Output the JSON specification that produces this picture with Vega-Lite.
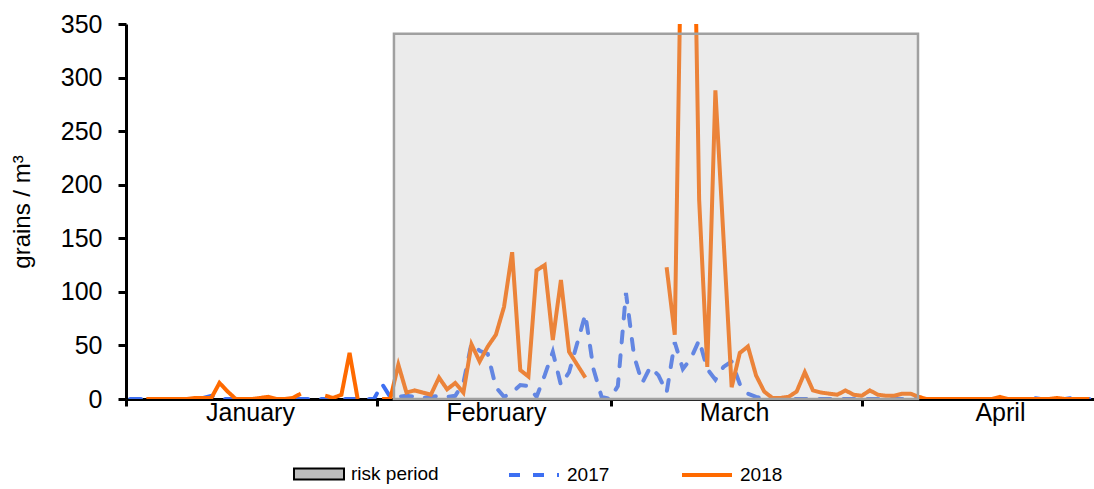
{
  "$schema": "https://vega.github.io/schema/vega-lite/v6.json",
  "width": 968,
  "height": 375,
  "autosize": {"type": "none"},
  "padding": {"left": 126, "top": 24, "right": 0, "bottom": 90},
  "background": "white",
  "config": {"view": {"stroke": null}, "font": "Liberation Sans"},
  "resolve": {"axis": {"x": "independent"}},
  "datasets": {
    "s2017": [
      {"day":1,"value":0},{"day":2,"value":0},{"day":3,"value":0},{"day":4,"value":0},{"day":5,"value":0},{"day":6,"value":0},{"day":7,"value":0},{"day":8,"value":0},{"day":9,"value":0},{"day":10,"value":1},
      {"day":11,"value":3},{"day":12,"value":0},{"day":13,"value":0},{"day":14,"value":0},{"day":15,"value":0},{"day":16,"value":0},{"day":17,"value":0},{"day":18,"value":0},{"day":19,"value":0},{"day":20,"value":0},
      {"day":21,"value":0},{"day":22,"value":0},{"day":23,"value":0},{"day":24,"value":0},{"day":25,"value":0},{"day":26,"value":0},{"day":27,"value":0},{"day":28,"value":0},{"day":29,"value":0},{"day":30,"value":0},
      {"day":31,"value":0},{"day":32,"value":14},{"day":33,"value":2},{"day":34,"value":2},{"day":35,"value":3},{"day":36,"value":2},{"day":37,"value":1},{"day":38,"value":2},{"day":39,"value":3},{"day":40,"value":2},
      {"day":41,"value":3},{"day":42,"value":15},{"day":43,"value":52},{"day":44,"value":45},{"day":45,"value":42},{"day":46,"value":11},{"day":47,"value":2},{"day":48,"value":6},{"day":49,"value":13},{"day":50,"value":12},
      {"day":51,"value":2},{"day":52,"value":22},{"day":53,"value":44},{"day":54,"value":13},{"day":55,"value":25},{"day":56,"value":52},{"day":57,"value":79},{"day":58,"value":28},{"day":59,"value":2},{"day":60,"value":0},
      {"day":61,"value":12},{"day":62,"value":99},{"day":63,"value":40},{"day":64,"value":15},{"day":65,"value":30},{"day":66,"value":22},{"day":67,"value":6},{"day":68,"value":53},{"day":69,"value":28},{"day":70,"value":38},
      {"day":71,"value":55},{"day":72,"value":28},{"day":73,"value":18},{"day":74,"value":30},{"day":75,"value":35},{"day":76,"value":14},{"day":77,"value":5},{"day":78,"value":2},{"day":79,"value":0},{"day":80,"value":0},
      {"day":81,"value":0},{"day":82,"value":0},{"day":83,"value":0},{"day":84,"value":0},{"day":85,"value":0},{"day":86,"value":0},{"day":87,"value":0},{"day":88,"value":0},{"day":89,"value":0},{"day":90,"value":0},
      {"day":91,"value":0},{"day":92,"value":0},{"day":93,"value":0},{"day":94,"value":0},{"day":95,"value":0},{"day":96,"value":0},{"day":97,"value":0},{"day":98,"value":0},{"day":99,"value":0},{"day":100,"value":0},
      {"day":101,"value":0},{"day":102,"value":0},{"day":103,"value":0},{"day":104,"value":0},{"day":105,"value":0},{"day":106,"value":0},{"day":107,"value":0},{"day":108,"value":0},{"day":109,"value":0},{"day":110,"value":0},
      {"day":111,"value":0},{"day":112,"value":1},{"day":113,"value":0},{"day":114,"value":0},{"day":115,"value":0},{"day":116,"value":0},{"day":117,"value":1},{"day":118,"value":0},{"day":119,"value":0}
    ],
    "s2018": [
      {"day":3,"value":0},{"day":4,"value":0},{"day":5,"value":0},{"day":6,"value":0},{"day":7,"value":0},{"day":8,"value":0},{"day":9,"value":1},{"day":10,"value":1},
      {"day":11,"value":1},{"day":12,"value":15},{"day":13,"value":7},{"day":14,"value":0},{"day":15,"value":0},{"day":16,"value":0},{"day":17,"value":1},{"day":18,"value":2},{"day":19,"value":0},{"day":20,"value":0},
      {"day":21,"value":1},{"day":22,"value":5},{"day":23,"value":null},{"day":25,"value":3},{"day":26,"value":1},{"day":27,"value":4},{"day":28,"value":43},{"day":29,"value":0},{"day":30,"value":null},
      {"day":32,"value":0},{"day":33,"value":0},{"day":34,"value":32},{"day":35,"value":6},{"day":36,"value":8},{"day":37,"value":6},{"day":38,"value":4},{"day":39,"value":20},{"day":40,"value":9},
      {"day":41,"value":15},{"day":42,"value":6},{"day":43,"value":51},{"day":44,"value":35},{"day":45,"value":49},{"day":46,"value":60},{"day":47,"value":86},{"day":48,"value":137},{"day":49,"value":27},{"day":50,"value":21},
      {"day":51,"value":120},{"day":52,"value":125},{"day":53,"value":55},{"day":54,"value":111},{"day":55,"value":44},{"day":56,"value":32},{"day":57,"value":20},{"day":58,"value":null},
      {"day":67,"value":123},{"day":68,"value":60},{"day":69,"value":530},{"day":70,"value":640},
      {"day":71,"value":186},{"day":72,"value":30},{"day":73,"value":288},{"day":74,"value":150},{"day":75,"value":11},{"day":76,"value":43},{"day":77,"value":49},{"day":78,"value":22},{"day":79,"value":7},{"day":80,"value":1},
      {"day":81,"value":1},{"day":82,"value":2},{"day":83,"value":7},{"day":84,"value":25},{"day":85,"value":8},{"day":86,"value":6},{"day":87,"value":5},{"day":88,"value":4},{"day":89,"value":8},{"day":90,"value":4},
      {"day":91,"value":3},{"day":92,"value":8},{"day":93,"value":4},{"day":94,"value":3},{"day":95,"value":3},{"day":96,"value":5},{"day":97,"value":5},{"day":98,"value":2},{"day":99,"value":0},{"day":100,"value":0},
      {"day":101,"value":0},{"day":102,"value":0},{"day":103,"value":0},{"day":104,"value":0},{"day":105,"value":0},{"day":106,"value":0},{"day":107,"value":0},{"day":108,"value":2},{"day":109,"value":0},{"day":110,"value":0},
      {"day":111,"value":0},{"day":112,"value":0},{"day":113,"value":0},{"day":114,"value":0},{"day":115,"value":1},{"day":116,"value":0},{"day":117,"value":0},{"day":118,"value":0},{"day":119,"value":0}
    ],
    "risk": [{"start": 33.46, "end": 97.92, "low": 0, "high": 341, "series": "risk period"}]
  },
  "layer": [
    {
      "data": {"name": "s2017"},
      "transform": [{"calculate": "'2017'", "as": "series"}],
      "mark": {"type": "line", "strokeWidth": 4, "strokeCap": "round", "clip": true, "invalid": "break-paths-filter-domains"},
      "encoding": {
        "x": {
          "field": "day", "type": "quantitative",
          "scale": {"domain": [0.5, 119.57], "nice": false, "zero": false},
          "axis": {
            "orient": "bottom",
            "values": [0.5, 31.37, 60.16, 91.03],
            "title": null, "grid": false, "labels": false,
            "domainColor": "#000000", "domainWidth": 3,
            "tickColor": "#000000", "tickWidth": 3, "tickSize": 7
          }
        },
        "y": {
          "field": "value", "type": "quantitative",
          "scale": {"domain": [0, 350], "nice": false},
          "axis": {
            "values": [0, 50, 100, 150, 200, 250, 300, 350],
            "title": "grains / m³", "titleFont": "Liberation Sans", "titleFontSize": 24, "titleFontWeight": "normal", "titleColor": "#000000", "titlePadding": 26,
            "grid": false, "domainColor": "#000000", "domainWidth": 3,
            "tickColor": "#000000", "tickWidth": 3, "tickSize": 8,
            "labelFont": "Liberation Sans", "labelFontSize": 25, "labelColor": "#000000", "labelPadding": 16
          }
        },
        "color": {
          "field": "series", "type": "nominal",
          "scale": {"domain": ["2017", "2018"], "range": ["#3d6ff2", "#ff6a00"]},
          "legend": {
            "orient": "none", "legendX": 381, "legendY": 424, "direction": "horizontal", "title": null, "padding": 0,
            "symbolType": "stroke", "symbolSize": 2500, "symbolStrokeWidth": 4,
            "labelFontSize": 19, "labelFont": "Liberation Sans", "labelColor": "#000000",
            "columnPadding": 64, "labelOffset": 6
          }
        },
        "strokeDash": {
          "field": "series", "type": "nominal",
          "scale": {"domain": ["2017", "2018"], "range": [[11, 13], [1, 0]]}
        }
      }
    },
    {
      "data": {"name": "s2018"},
      "transform": [{"calculate": "'2018'", "as": "series"}],
      "mark": {"type": "line", "strokeWidth": 4, "clip": true, "invalid": "break-paths-filter-domains"},
      "encoding": {
        "x": {"field": "day", "type": "quantitative", "axis": null},
        "y": {"field": "value", "type": "quantitative"},
        "color": {"field": "series", "type": "nominal"},
        "strokeDash": {"field": "series", "type": "nominal"}
      }
    },
    {
      "data": {"name": "risk"},
      "mark": {"type": "rect", "fillOpacity": 0.3, "stroke": "#a0a0a0", "strokeWidth": 2.5, "strokeOpacity": 1},
      "encoding": {
        "x": {
          "field": "start", "type": "quantitative",
          "axis": {
            "orient": "bottom",
            "values": [15.75, 46, 75.3, 108],
            "title": null, "grid": false, "ticks": false, "tickSize": 0, "domain": false,
            "labelFont": "Liberation Sans", "labelFontSize": 25, "labelColor": "#000000",
            "labelPadding": 1, "labelFlush": false, "labelBound": false, "labelOverlap": false,
            "labelAlign": "center", "labelBaseline": "top",
            "labelExpr": "datum.value < 30 ? 'January' : datum.value < 60 ? 'February' : datum.value < 90 ? 'March' : 'April'"
          }
        },
        "x2": {"field": "end"},
        "y": {"field": "high", "type": "quantitative"},
        "y2": {"field": "low"},
        "fill": {
          "field": "series", "type": "nominal",
          "scale": {"domain": ["risk period"], "range": ["#bdbdbd"]},
          "legend": {
            "orient": "none", "legendX": 167, "legendY": 424, "title": null, "padding": 0,
            "symbolType": "M-1,-0.22H1V0.22H-1Z", "symbolSize": 2500,
            "symbolStrokeColor": "#000000", "symbolStrokeWidth": 2,
            "labelFontSize": 19, "labelFont": "Liberation Sans", "labelColor": "#000000", "labelOffset": 6
          }
        }
      }
    }
  ]
}
